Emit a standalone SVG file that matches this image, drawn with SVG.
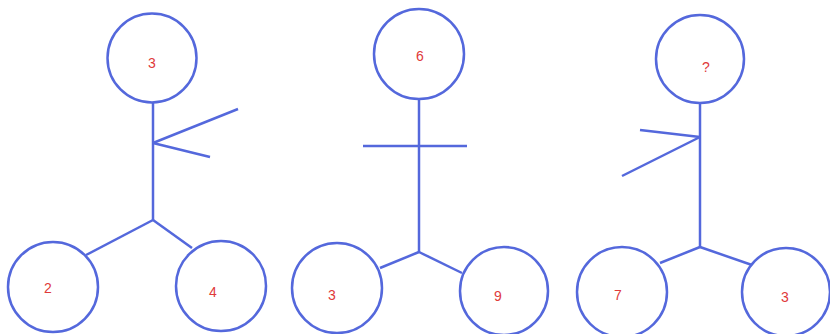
<svg xmlns="http://www.w3.org/2000/svg" width="830" height="334" viewBox="0 0 830 334">
<style>
.n circle{fill:#fff;stroke:#5468dc;stroke-width:2.5}
.n text{fill:#e03a3a;font-family:"Liberation Sans",Arial,sans-serif;font-size:14px;text-anchor:middle;dominant-baseline:central}
#connectors line{stroke:#5468dc;stroke-width:2.5;stroke-linecap:butt}
</style>
<rect width="830" height="334" fill="#fff"/>
<g id="connectors">
<line x1="153" y1="102" x2="153" y2="220"/>
<line x1="153" y1="143" x2="238" y2="109"/>
<line x1="153" y1="143" x2="210" y2="157"/>
<line x1="153" y1="220" x2="86" y2="255"/>
<line x1="153" y1="220" x2="192" y2="248"/>
<line x1="419" y1="99" x2="419" y2="252"/>
<line x1="363" y1="146" x2="467" y2="146"/>
<line x1="419" y1="252" x2="380" y2="268"/>
<line x1="419" y1="252" x2="462" y2="273"/>
<line x1="700" y1="103" x2="700" y2="247"/>
<line x1="640" y1="130" x2="700" y2="137"/>
<line x1="622" y1="176" x2="700" y2="137"/>
<line x1="700" y1="247" x2="660" y2="263"/>
<line x1="700" y1="247" x2="752" y2="265"/>
</g>
<g id="a-top" class="n"><circle cx="152" cy="58" r="44.5"/><text x="152" y="63">3</text></g>
<g id="a-left" class="n"><circle cx="53" cy="287" r="45"/><text x="48" y="288">2</text></g>
<g id="a-right" class="n"><circle cx="221" cy="286" r="45"/><text x="213" y="292">4</text></g>
<g id="b-top" class="n"><circle cx="419" cy="54" r="45"/><text x="420" y="56">6</text></g>
<g id="b-left" class="n"><circle cx="337" cy="288" r="45"/><text x="332" y="295">3</text></g>
<g id="b-right" class="n"><circle cx="504" cy="291" r="44"/><text x="498" y="296">9</text></g>
<g id="c-top" class="n"><circle cx="700" cy="59" r="44"/><text x="706" y="67">?</text></g>
<g id="c-left" class="n"><circle cx="622" cy="292" r="45"/><text x="618" y="295">7</text></g>
<g id="c-right" class="n"><circle cx="786" cy="292" r="44"/><text x="785" y="297">3</text></g>
</svg>
